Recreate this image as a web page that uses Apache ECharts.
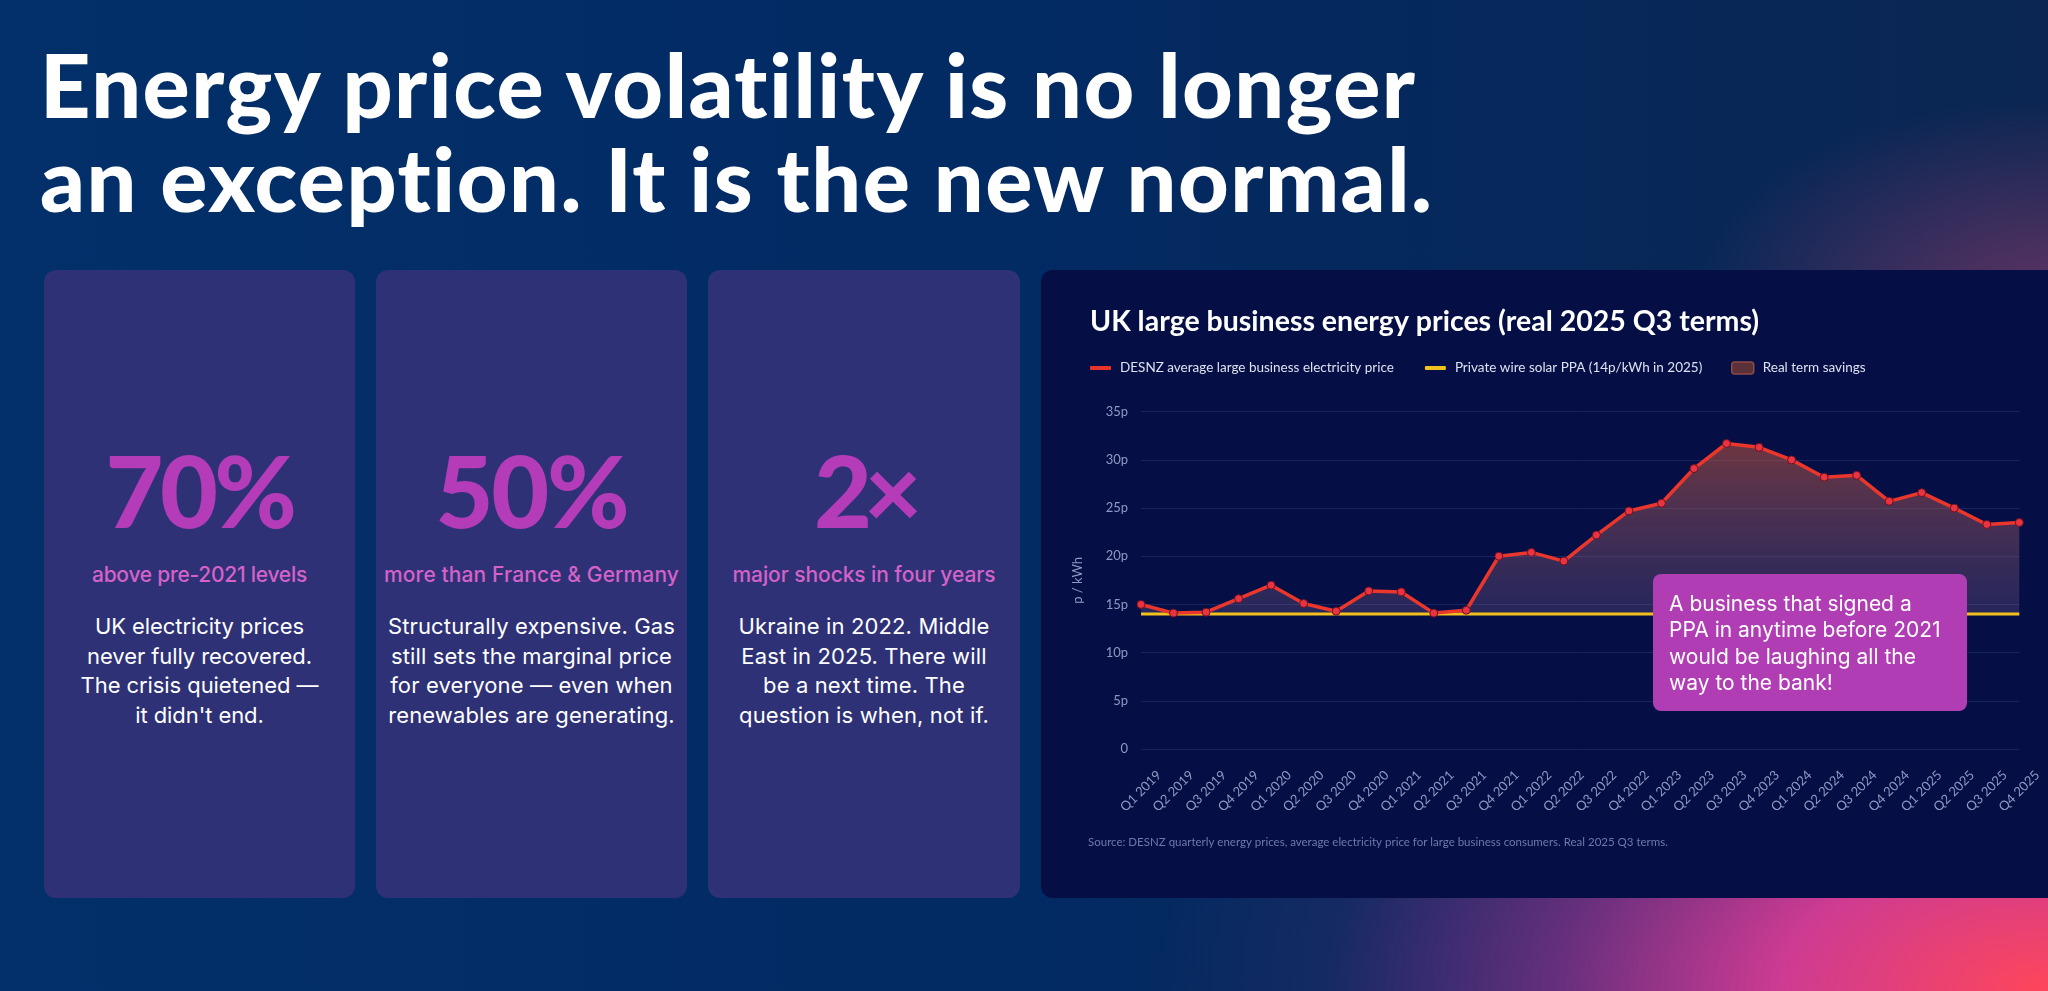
<!DOCTYPE html>
<html>
<head>
<meta charset="utf-8">
<script src="https://cdn.jsdelivr.net/npm/echarts@6.0.0/dist/echarts.min.js"></script>
<style>
  html, body { margin:0; padding:0; }
  body { width:2048px; height:991px; overflow:hidden; }
  #page {
    position:relative; width:2048px; height:991px; overflow:hidden;
    background:
      radial-gradient(ellipse 900px 500px at 2048px 991px, rgba(255,70,90,1) 0%, rgba(215,60,150,0.95) 30%, rgba(140,50,140,0.7) 55%, rgba(60,45,110,0.3) 80%, rgba(3,42,98,0) 100%),
      radial-gradient(ellipse 350px 200px at 2048px 300px, rgba(150,60,110,0.6) 0%, rgba(3,42,98,0) 100%),
      linear-gradient(90deg, #03306a 0%, #022a63 50%, #0b2652 100%);
  }
  .tl { position:absolute; left:40px; font-family:Lato, sans-serif; font-weight:900; font-size:88px; line-height:94px; color:#fff; white-space:nowrap; }
  .tl span { display:inline-block; }
  .card { position:absolute; top:270px; height:628px; border-radius:12px; background:#2e3175; }
  .num { position:absolute; left:0; right:0; top:169.3px; text-align:center; font-family:Lato, sans-serif; font-weight:900; font-size:100px; line-height:100px; color:#b43cb9; white-space:nowrap; }
  .sub { position:absolute; left:0; right:0; top:293.4px; text-align:center; font-family:Inter, sans-serif; font-weight:500; font-size:21px; line-height:24px; color:#d462c9; white-space:nowrap; }
  .body { position:absolute; left:0; right:0; top:342.25px; text-align:center; font-family:Inter, sans-serif; font-weight:400; font-size:22px; line-height:29.5px; color:#fff; white-space:nowrap; }
  .num span, .sub span, .body span { display:inline-block; }
  #panel { position:absolute; left:1041px; top:270px; width:1040px; height:628px; border-radius:12px; background:#050f46; }
  #chart { position:absolute; left:1041px; top:270px; width:1007px; height:628px; }
</style>
</head>
<body>
<div id="page">
  <div class="tl" style="top:37px"><span data-w="1378">Energy price volatility is no longer</span></div>
  <div class="tl" style="top:131px"><span data-w="1395">an exception. It is the new normal.</span></div>

  <div class="card" style="left:44px; width:311px;">
    <div class="num"><span data-w="188">70%</span></div>
    <div class="sub"><span data-w="215">above pre-2021 levels</span></div>
    <div class="body" data-bw="209">
      <div><span>UK electricity prices</span></div>
      <div><span>never fully recovered.</span></div>
      <div><span>The crisis quietened —</span></div>
      <div><span>it didn't end.</span></div>
    </div>
  </div>
  <div class="card" style="left:376px; width:311px;">
    <div class="num"><span data-w="192">50%</span></div>
    <div class="sub"><span data-w="295">more than France &amp; Germany</span></div>
    <div class="body" data-bw="287">
      <div><span>Structurally expensive. Gas</span></div>
      <div><span>still sets the marginal price</span></div>
      <div><span>for everyone — even when</span></div>
      <div><span>renewables are generating.</span></div>
    </div>
  </div>
  <div class="card" style="left:708px; width:312px;">
    <div class="num"><span data-w="100">2×</span></div>
    <div class="sub"><span data-w="263">major shocks in four years</span></div>
    <div class="body" data-bw="251">
      <div><span>Ukraine in 2022. Middle</span></div>
      <div><span>East in 2025. There will</span></div>
      <div><span>be a next time. The</span></div>
      <div><span>question is when, not if.</span></div>
    </div>
  </div>

  <div id="panel"></div>
  <div id="chart"></div>
</div>

<script>
// ---------- chart data ----------
const quarters = ['Q1 2019','Q2 2019','Q3 2019','Q4 2019','Q1 2020','Q2 2020','Q3 2020','Q4 2020',
  'Q1 2021','Q2 2021','Q3 2021','Q4 2021','Q1 2022','Q2 2022','Q3 2022','Q4 2022',
  'Q1 2023','Q2 2023','Q3 2023','Q4 2023','Q1 2024','Q2 2024','Q3 2024','Q4 2024',
  'Q1 2025','Q2 2025','Q3 2025','Q4 2025'];
const desnzPrice = [15.0,14.1,14.2,15.6,17.0,15.1,14.3,16.4,16.3,14.1,14.4,20.0,20.4,19.5,
  22.2,24.7,25.5,29.1,31.7,31.3,30.0,28.2,28.4,25.7,26.6,25.0,23.3,23.5];
const ppaPrice = [14,14,14,14,14,14,14,14,14,14,14,14,14,14,
  14,14,14,14,14,14,14,14,14,14,14,14,14,14];
const yMin = 0, yMax = 35, yStep = 5;
const seriesNames = ['DESNZ average large business electricity price',
  'Private wire solar PPA (14p/kWh in 2025)',
  'Real term savings'];
const chartTitle = 'UK large business energy prices (real 2025 Q3 terms)';
const sourceNote = 'Source: DESNZ quarterly energy prices, average electricity price for large business consumers. Real 2025 Q3 terms.';
const annotationText = 'A business that signed a\nPPA in anytime before 2021\nwould be laughing all the\nway to the bank!';

// ---------- fit HTML text widths ----------
function fitText() {
  document.querySelectorAll('[data-w]').forEach(el => {
    el.style.letterSpacing = '0px';
    const w = el.getBoundingClientRect().width;
    const n = [...el.textContent].length;
    el.style.letterSpacing = ((+el.dataset.w - w) / n) + 'px';
  });
  document.querySelectorAll('[data-bw]').forEach(block => {
    const spans = block.querySelectorAll('span');
    spans.forEach(s => s.style.letterSpacing = '0px');
    const first = spans[0];
    const w = first.getBoundingClientRect().width;
    const n = [...first.textContent].length;
    const ls = ((+block.dataset.bw - w) / n) + 'px';
    spans.forEach(s => s.style.letterSpacing = ls);
  });
}
fitText();

// ---------- chart ----------
const labelColor = '#9199c2';
const legendText = { color: '#dde1f0', fontFamily: 'Lato', fontSize: 13.5, padding: [0, 0, 0, 4] };
const chart = echarts.init(document.getElementById('chart'), null, { renderer: 'canvas' });
const option = {
  animation: false,
  backgroundColor: 'transparent',
  title: {
    text: chartTitle, left: 49, top: 33.5, padding: 0,
    textStyle: { color: '#ffffff', fontFamily: 'Lato', fontWeight: 'bold', fontSize: 28.5, lineHeight: 36 }
  },
  legend: [
    {
      left: 49, top: 91, padding: 0, itemWidth: 21, itemHeight: 4, itemGap: 31, icon: 'roundRect',
      data: [
        { name: seriesNames[0], itemStyle: { color: '#e8332b', borderWidth: 0 } },
        { name: seriesNames[1], itemStyle: { color: '#f4c21c', borderWidth: 0 } }
      ],
      textStyle: legendText
    },
    {
      left: 690, top: 91, padding: 0, itemWidth: 22, itemHeight: 12,
      data: [{ name: seriesNames[2], icon: 'roundRect', itemStyle: { color: '#5a3138', borderColor: '#8f4a44', borderWidth: 1.5 } }],
      textStyle: legendText
    }
  ],
  grid: [
    { left: 100, right: 28.7, top: 141.7, bottom: 149 },
    { left: 118, right: 10.7, top: 141.7, bottom: 149 }
  ],
  xAxis: [
    {
      type: 'category', gridIndex: 0, data: quarters, boundaryGap: false,
      axisLine: { show: false }, axisTick: { show: false }, axisLabel: { show: false }, splitLine: { show: false }
    },
    {
      type: 'category', gridIndex: 1, data: quarters, boundaryGap: false,
      axisLine: { show: false }, axisTick: { show: false }, splitLine: { show: false },
      axisLabel: { interval: 0, rotate: 45, margin: 24, color: labelColor, fontFamily: 'Lato', fontSize: 13 }
    }
  ],
  yAxis: [
    {
      type: 'value', gridIndex: 0, min: yMin, max: yMax, interval: yStep,
      axisLine: { show: false }, axisTick: { show: false },
      axisLabel: { color: labelColor, fontFamily: 'Lato', fontSize: 13, margin: 13,
        formatter: v => (v === 0 ? '0' : v + 'p') },
      splitLine: { lineStyle: { color: '#16245f', width: 1 } },
      name: 'p / kWh', nameLocation: 'middle', nameGap: 57, nameRotate: 90,
      nameTextStyle: { color: labelColor, fontFamily: 'Lato', fontSize: 13 }
    },
    { type: 'value', gridIndex: 1, min: yMin, max: yMax, interval: yStep, show: false }
  ],
  series: [
    {
      name: seriesNames[2], type: 'line', xAxisIndex: 0, yAxisIndex: 0, data: desnzPrice,
      symbol: 'none', showSymbol: false, silent: true, z: 1,
      lineStyle: { opacity: 0 },
      itemStyle: { color: '#5a3138' },
      areaStyle: {
        origin: ppaPrice[0], opacity: 1,
        color: new echarts.graphic.LinearGradient(0, 0, 0, 1, [
          { offset: 0, color: 'rgba(205,90,60,0.52)' },
          { offset: 1, color: 'rgba(125,100,145,0.28)' }
        ])
      }
    },
    {
      name: seriesNames[1], type: 'line', xAxisIndex: 0, yAxisIndex: 0, data: ppaPrice,
      symbol: 'none', showSymbol: false, z: 2,
      lineStyle: { color: '#f3c11b', width: 3 }, itemStyle: { color: '#f3c11b' }
    },
    {
      name: seriesNames[0], type: 'line', xAxisIndex: 0, yAxisIndex: 0, data: desnzPrice,
      symbol: 'circle', symbolSize: 8, showSymbol: true, showAllSymbol: true, z: 3,
      lineStyle: { color: '#ea362b', width: 3.5 },
      itemStyle: { color: '#e83340', borderColor: '#6a1024', borderWidth: 1 }
    }
  ],
  graphic: [
    {
      type: 'text', x: 47, y: 572, z: 10,
      style: { text: sourceNote, fill: '#6e79aa', fontFamily: 'Lato', fontSize: 11.5, verticalAlign: 'middle' }
    },
    {
      type: 'group', z: 100,
      children: [
        { type: 'rect', z: 100, shape: { x: 612, y: 304, width: 314, height: 137, r: 8 }, style: { fill: '#b13db4' } },
        { type: 'text', z: 101, x: 628, y: 321,
          style: { text: annotationText, fill: '#ffffff', fontFamily: 'Inter', fontSize: 21, lineHeight: 26.5, verticalAlign: 'top' } }
      ]
    }
  ]
};
chart.setOption(option);
</script>
</body>
</html>
